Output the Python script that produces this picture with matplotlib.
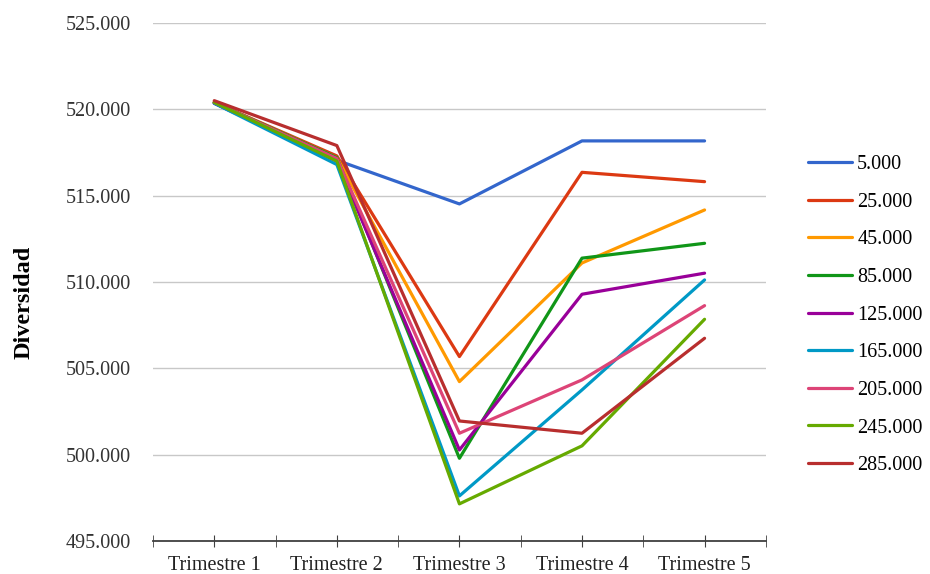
import matplotlib.pyplot as plt
from matplotlib.ticker import FuncFormatter, MultipleLocator
import numpy as np

plt.rcParams['font.family'] = ['Liberation Serif', 'DejaVu Serif']

trimestres = ["Trimestre 1", "Trimestre 2", "Trimestre 3", "Trimestre 4", "Trimestre 5"]
series = ["5.000", "25.000", "45.000", "85.000", "125.000",
          "165.000", "205.000", "245.000", "285.000"]

s_5000 = [520350, 517050, 514520, 518170, 518170]
s_25000 = [520400, 517300, 505680, 516350, 515810]
s_45000 = [520400, 517200, 504230, 511100, 514170]
s_85000 = [520400, 517200, 499790, 511380, 512240]
s_125000 = [520350, 517000, 500270, 509290, 510510]
s_165000 = [520350, 516800, 497610, 503750, 510120]
s_205000 = [520400, 517150, 501240, 504330, 508630]
s_245000 = [520400, 517000, 497150, 500510, 507840]
s_285000 = [520500, 517900, 501950, 501240, 506740]

valores = [s_5000, s_25000, s_45000, s_85000, s_125000,
           s_165000, s_205000, s_245000, s_285000]
colores = ["#3366CC", "#DC3912", "#FF9900", "#109618", "#990099",
           "#0099C6", "#DD4477", "#66AA00", "#B82E2E"]

fig = plt.figure(figsize=(9.3, 5.74), dpi=100)
ax = fig.add_axes([0.1645, 0.0575, 0.659, 0.9025])

x = np.arange(len(trimestres))
for nombre, y, c in zip(series, valores, colores):
    ax.plot(x, y, color=c, lw=2.3, label=nombre, solid_capstyle="round")

ax.set_xlim(-0.5, len(trimestres) - 0.5)
ax.set_ylim(495000, 525000)
ax.yaxis.set_major_locator(MultipleLocator(5000))
ax.yaxis.set_major_formatter(FuncFormatter(lambda v, p: f"{v:,.0f}".replace(",", ".")))
ax.grid(axis="y", color="#c8c8c8", lw=1)
ax.set_axisbelow(True)

ax.set_xticks(x)
ax.set_xticklabels(trimestres)
ax.set_xticks(np.arange(-0.5, len(trimestres), 1.0), minor=True)
ax.tick_params(axis="x", which="both", direction="inout", length=8, color="#404040",
               labelsize=14.5, pad=7)
ax.tick_params(axis="y", length=0, labelsize=14.5, pad=16, colors="#333333")
ax.tick_params(axis="x", colors="#404040", labelcolor="#222222")

for lado in ["top", "right", "left"]:
    ax.spines[lado].set_visible(False)
ax.spines["bottom"].set_color("#404040")
ax.spines["bottom"].set_linewidth(1.3)

ax.set_ylabel("Diversidad", fontsize=17.5, fontweight="bold")
ax.yaxis.set_label_coords(-0.193, 0.46)

ax.legend(loc="upper left", bbox_to_anchor=(1.039, 0.78), frameon=False,
          fontsize=14.5, handlelength=2.2, handletextpad=0.25, labelspacing=0.92)

fig.savefig("out.png", dpi=100)
